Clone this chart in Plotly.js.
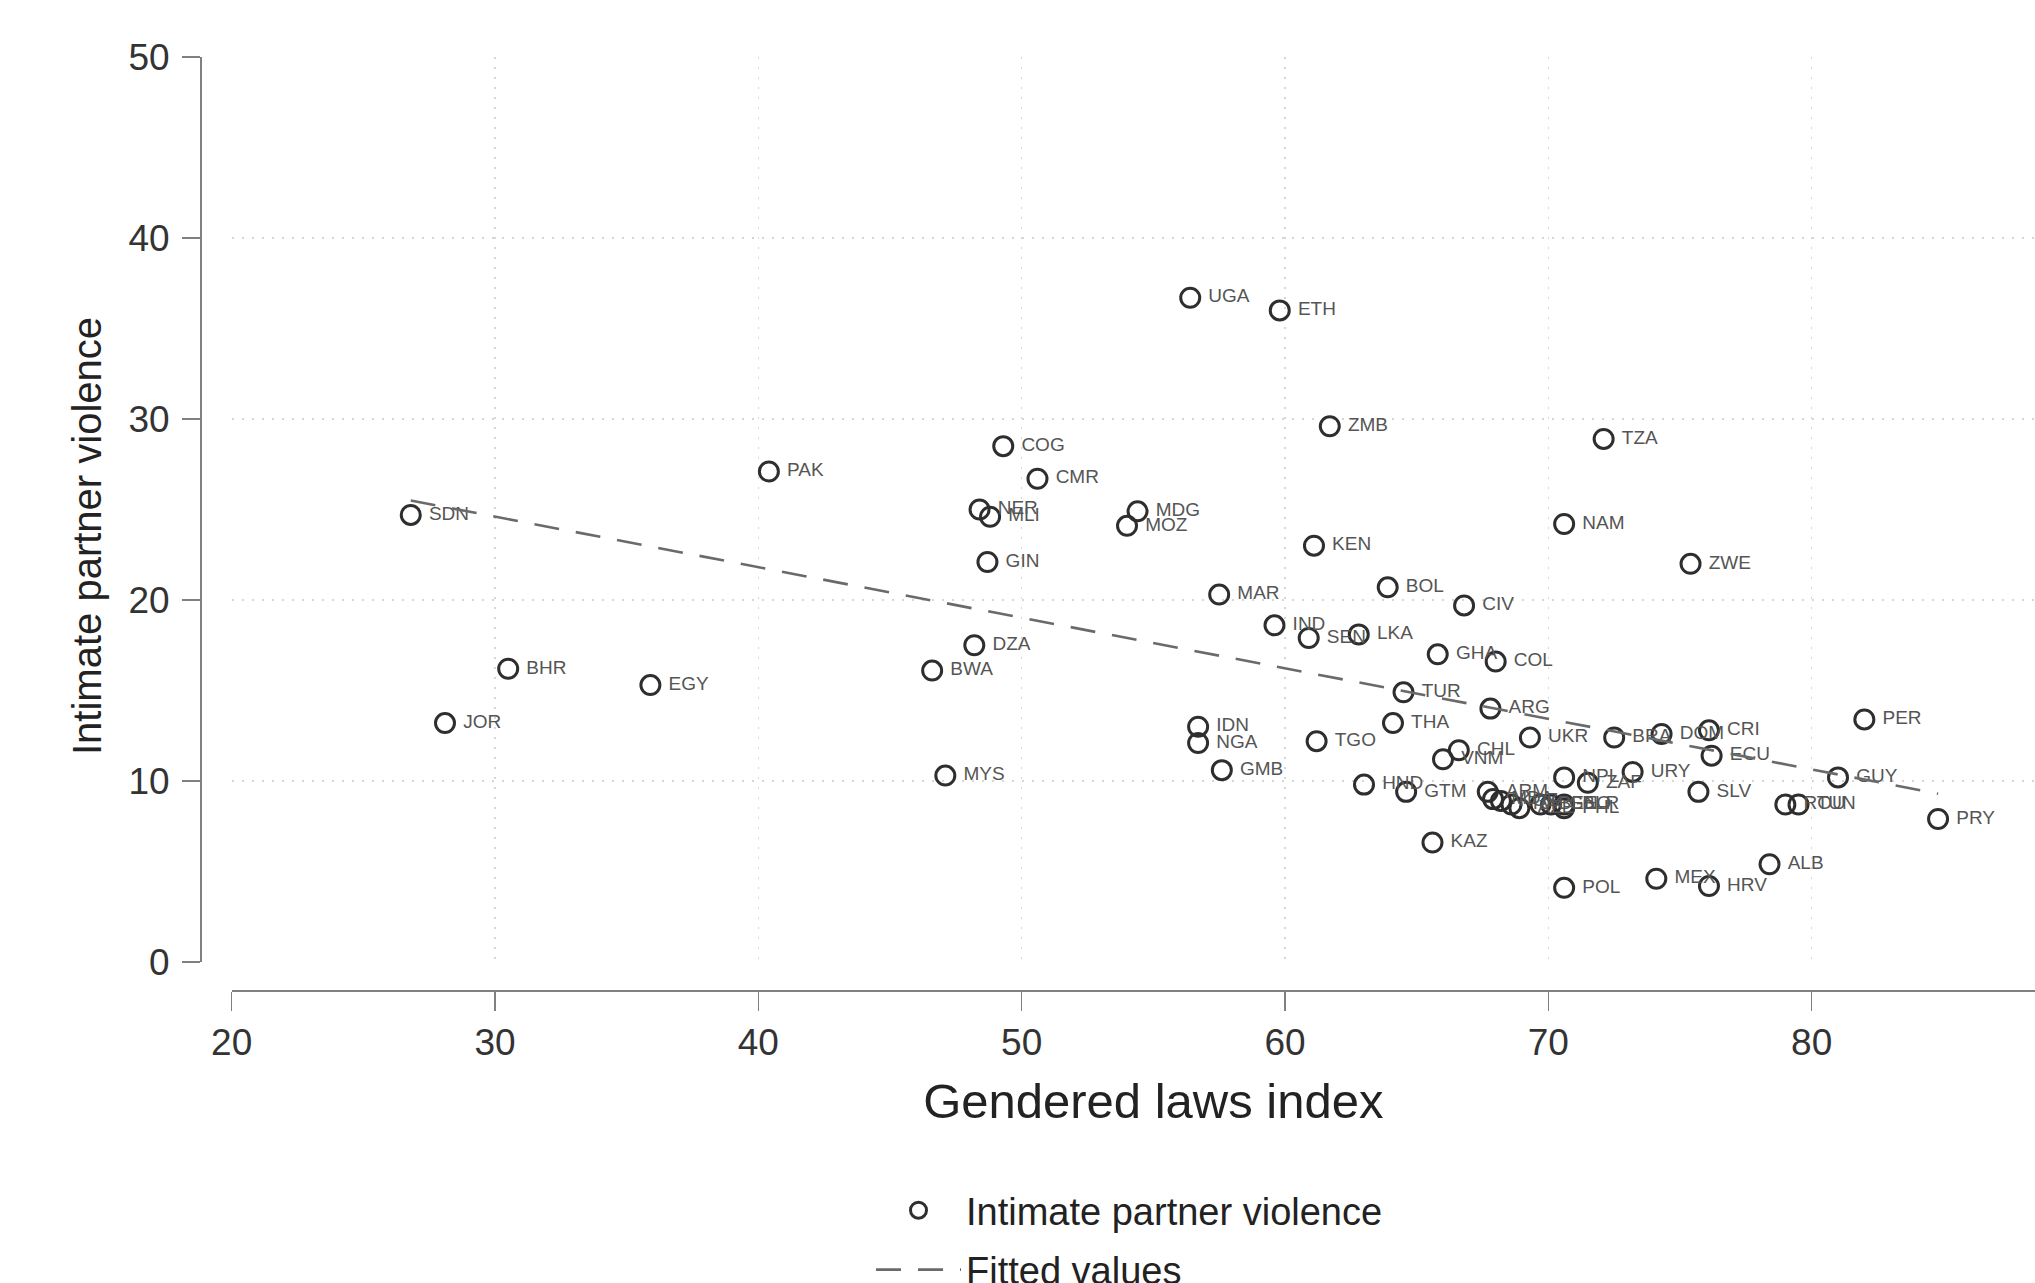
<!DOCTYPE html>
<html>
<head>
<meta charset="utf-8">
<script src="https://cdn.plot.ly/plotly-3.0.1.min.js"></script>
<style>
  html, body { margin: 0; padding: 0; overflow: hidden; background: #ffffff; }
  #chart { width: 2075px; height: 1283px; }
</style>
</head>
<body>
<div id="chart"></div>
<script>
// Country codes, gendered laws index (x) and share of women reporting intimate partner violence (y)
const countries = [
  "SDN","JOR","BHR","EGY","PAK","BWA","MYS","DZA","NER","MLI",
  "GIN","COG","CMR","MOZ","MDG","UGA","IDN","NGA","MAR","GMB",
  "ETH","IND","SEN","TGO","KEN","ZMB","LKA","HND","BOL","THA",
  "TUR","GTM","KAZ","GHA","VNM","CHL","CIV","ARG","COL","UKR",
  "ARM","MDA","KGZ","TJK","AZE","BEN","GEO","BLR","PHL","NPL",
  "ZAF","URY","POL","NAM","TZA","BRA","DOM","MEX","CRI","ECU",
  "SLV","HRV","ZWE","ALB","ROU","TUN","GUY","PER","PRY"
];
const lawsIndex = [
  26.8, 28.1, 30.5, 35.9, 40.4, 46.6, 47.1, 48.2, 48.4, 48.8,
  48.7, 49.3, 50.6, 54.0, 54.4, 56.4, 56.7, 56.7, 57.5, 57.6,
  59.8, 59.6, 60.9, 61.2, 61.1, 61.7, 62.8, 63.0, 63.9, 64.1,
  64.5, 64.6, 65.6, 65.8, 66.0, 66.6, 66.8, 67.8, 68.0, 69.3,
  67.7, 67.9, 68.2, 68.6, 68.9, 69.7, 70.1, 70.6, 70.6, 70.6,
  71.5, 73.2, 70.6, 70.6, 72.1, 72.5, 74.3, 74.1, 76.1, 76.2,
  75.7, 76.1, 75.4, 78.4, 79.0, 79.5, 81.0, 82.0, 84.8
];
const ipv = [
  24.7, 13.2, 16.2, 15.3, 27.1, 16.1, 10.3, 17.5, 25.0, 24.6,
  22.1, 28.5, 26.7, 24.1, 24.9, 36.7, 13.0, 12.1, 20.3, 10.6,
  36.0, 18.6, 17.9, 12.2, 23.0, 29.6, 18.1,  9.8, 20.7, 13.2,
  14.9,  9.4,  6.6, 17.0, 11.2, 11.7, 19.7, 14.0, 16.6, 12.4,
   9.4,  9.0,  8.9,  8.7,  8.5,  8.7,  8.7,  8.7,  8.5, 10.2,
   9.9, 10.5,  4.1, 24.2, 28.9, 12.4, 12.6,  4.6, 12.8, 11.4,
   9.4,  4.2, 22.0,  5.4,  8.7,  8.7, 10.2, 13.4,  7.9
];

// Linear fit end points over the observed range of the index
const fitX = [26.8, 84.8];
const fitY = [25.5, 9.3];

const xTicks = [20, 30, 40, 50, 60, 70, 80, 90];
const yTicks = [0, 10, 20, 30, 40, 50];

const FONT = "Liberation Sans, Arial, Helvetica, sans-serif";

const points = {
  type: "scatter",
  mode: "markers+text",
  name: "Intimate partner violence",
  legendgroup: "obs",
  x: lawsIndex,
  y: ipv,
  text: countries,
  texttemplate: "\u00a0%{text}",
  textposition: "middle right",
  textfont: { family: FONT, size: 19, color: "#555555" },
  marker: {
    symbol: "circle-open",
    size: 19,
    color: "#2e2e2e",
    line: { width: 3, color: "#2e2e2e" }
  },
  cliponaxis: false,
  hoverinfo: "skip"
};

const fitted = {
  type: "scatter",
  mode: "lines",
  name: "Fitted values",
  legendgroup: "fit",
  x: fitX,
  y: fitY,
  line: { color: "#6a6a6a", width: 2.6, dash: "25px,17px" },
  hoverinfo: "skip"
};

// Plot area: x from 201px to 2075px, y from 57px to 991px
const plotW = 2075 - 201;
const plotH = 991 - 57;

const layout = {
  width: 2075,
  height: 1283,
  margin: { l: 201, r: 0, t: 57, b: 292, pad: 0, autoexpand: false },
  paper_bgcolor: "#ffffff",
  plot_bgcolor: "#ffffff",
  font: { family: FONT, color: "#333333" },
  showlegend: true,
  hovermode: false,
  xaxis: {
    domain: [(231.7 - 201) / plotW, 1],
    range: [20, 90],
    anchor: "free",
    position: 0,
    automargin: false,
    tickmode: "array",
    tickvals: xTicks,
    showline: true,
    linecolor: "#808080",
    linewidth: 2,
    ticks: "outside",
    ticklen: 19,
    tickwidth: 1.5,
    tickcolor: "#808080",
    tickfont: { family: FONT, size: 37, color: "#333333" },
    ticklabelstandoff: 0,
    showgrid: true,
    gridcolor: "#d6d6d6",
    gridwidth: 1.5,
    griddash: "2px,8px",
    zeroline: false,
    title: {
      text: "Gendered laws index",
      font: { family: FONT, size: 49, color: "#222222" },
      standoff: 20
    }
  },
  yaxis: {
    domain: [(991 - 962) / plotH, 1],
    range: [0, 50],
    anchor: "free",
    position: 0,
    automargin: false,
    tickmode: "array",
    tickvals: yTicks,
    showline: true,
    linecolor: "#808080",
    linewidth: 2,
    ticks: "outside",
    ticklen: 18,
    tickwidth: 1.5,
    tickcolor: "#808080",
    tickfont: { family: FONT, size: 37, color: "#333333" },
    ticklabelstandoff: 5,
    showgrid: true,
    gridcolor: "#d6d6d6",
    gridwidth: 1.5,
    griddash: "2px,8px",
    zeroline: false
  },
  annotations: [
    {
      text: "Intimate partner violence",
      textangle: -90,
      xref: "paper",
      yref: "paper",
      x: (87 - 201) / plotW,
      y: (991 - 536) / plotH,
      xanchor: "center",
      yanchor: "middle",
      showarrow: false,
      font: { family: FONT, size: 40, color: "#222222" }
    }
  ],
  legend: {
    orientation: "v",
    x: (871 - 201) / plotW,
    xanchor: "left",
    y: (991 - 1179) / plotH,
    yanchor: "top",
    font: { family: FONT, size: 38, color: "#222222" },
    itemwidth: 85,
    traceorder: "grouped",
    tracegroupgap: 7,
    bgcolor: "rgba(0,0,0,0)",
    borderwidth: 0
  }
};

Plotly.newPlot("chart", [points, fitted], layout, { staticPlot: true, displayModeBar: false });
</script>
</body>
</html>
